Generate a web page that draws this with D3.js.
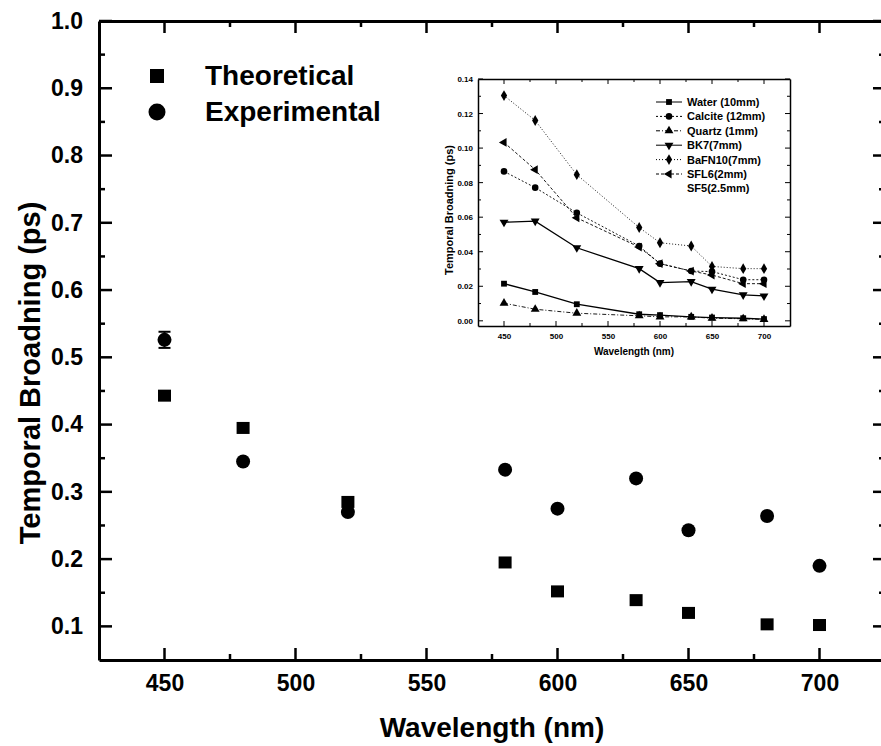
<!DOCTYPE html>
<html>
<head>
<meta charset="utf-8">
<script src="https://cdn.jsdelivr.net/npm/d3@7"></script>
<style>
body { margin: 0; background: #fff; }
svg { display: block; }
text { font-family: "Liberation Sans", Arial, sans-serif; font-weight: bold; fill: #000; }
</style>
</head>
<body>
<svg width="881" height="746"></svg>
<script>
// main chart data
const wavelengths = [450, 480, 520, 580, 600, 630, 650, 680, 700];
const theoretical = [0.443, 0.395, 0.285, 0.195, 0.152, 0.139, 0.120, 0.103, 0.102];
const experimental = [0.526, 0.345, 0.270, 0.333, 0.275, 0.320, 0.243, 0.264, 0.190];
const expError = [0.012, 0, 0, 0, 0, 0, 0, 0, 0];
const legendNames = ['Theoretical', 'Experimental'];

// inset data
const insetNames = ['Water (10mm)', 'Calcite (12mm)', 'Quartz (1mm)', 'BK7(7mm)', 'BaFN10(7mm)', 'SFL6(2mm)', 'SF5(2.5mm)'];
const water   = [0.0215, 0.0167, 0.0096, 0.0038, 0.0033, 0.0023, 0.0019, 0.0015, 0.0010];
const calcite = [0.0865, 0.0771, 0.0625, 0.0433, 0.0331, 0.0288, 0.0285, 0.0238, 0.0238];
const quartz  = [0.0102, 0.0067, 0.0044, 0.0029, 0.0023, 0.0023, 0.0015, 0.0012, 0.0008];
const bk7     = [0.0571, 0.0577, 0.0423, 0.0302, 0.0221, 0.0227, 0.0183, 0.0150, 0.0144];
const bafn10  = [0.1304, 0.1160, 0.0846, 0.0540, 0.0452, 0.0433, 0.0315, 0.0302, 0.0302];
const sfl6    = [0.1033, 0.0875, 0.0596, 0.0427, 0.0331, 0.0288, 0.0265, 0.0215, 0.0215];
const sf5     = [];
const insetSeries = [water, calcite, quartz, bk7, bafn10, sfl6, sf5];

const svg = d3.select('svg');

// ---------- main plot ----------
const x = d3.scaleLinear().domain([425, 725]).range([99, 885]);
const y = d3.scaleLinear().domain([0.05, 1.0]).range([660, 21]);

const xMajor = d3.range(450, 701, 50);
const xMinor = d3.range(475, 701, 50);
const yMajor = d3.range(1, 11).map(d => d / 10);
const yMinor = d3.range(1, 10).map(d => d / 10 + 0.05);

function styleAxis(g, w) {
  g.select('.domain').attr('stroke-width', w).attr('stroke', '#000');
}

// inward ticks drawn as plain lines on top of everything
function ticks(g, vals, scale, pos, orient, len, w) {
  g.append('g').selectAll('line').data(vals).enter().append('line')
    .attr('stroke', '#000').attr('stroke-width', w)
    .attr('x1', d => orient === 'h' ? scale(d) : pos)
    .attr('x2', d => orient === 'h' ? scale(d) : pos + len)
    .attr('y1', d => orient === 'h' ? pos : scale(d))
    .attr('y2', d => orient === 'h' ? pos + len : scale(d));
}

const axB = svg.append('g').attr('transform', 'translate(0,660)')
  .call(d3.axisBottom(x).tickValues(xMajor).tickSize(0).tickPadding(15).tickFormat(d3.format('d')));
axB.selectAll('text').style('font-size', '23px');
styleAxis(axB, 3);

styleAxis(svg.append('g').attr('transform', 'translate(0,21)')
  .call(d3.axisTop(x).tickValues([]).tickSize(0)), 3);

const axL = svg.append('g').attr('transform', 'translate(99,0)')
  .call(d3.axisLeft(y).tickValues(yMajor).tickSize(0).tickPadding(16).tickFormat(d3.format('.1f')));
axL.selectAll('text').style('font-size', '23px');
styleAxis(axL, 3);

styleAxis(svg.append('g').attr('transform', 'translate(885,0)')
  .call(d3.axisRight(y).tickValues([]).tickSize(0)), 3);

svg.append('text')
  .attr('transform', 'translate(40,373) rotate(-90)')
  .attr('text-anchor', 'middle')
  .style('font-size', '29px')
  .text('Temporal Broadning (ps)');

svg.append('text')
  .attr('x', 492).attr('y', 737)
  .attr('text-anchor', 'middle')
  .style('font-size', '28px')
  .text('Wavelength (nm)');

// error bars
const pts = wavelengths.map((w, i) => ({w, t: theoretical[i], e: experimental[i], err: expError[i]}));
const eb = svg.append('g').selectAll('g').data(pts.filter(d => d.err > 0)).enter().append('g')
  .attr('stroke', '#000').attr('stroke-width', 2);
eb.append('line').attr('x1', d => x(d.w)).attr('x2', d => x(d.w))
  .attr('y1', d => y(d.e - d.err)).attr('y2', d => y(d.e + d.err));
eb.append('line').attr('x1', d => x(d.w) - 6).attr('x2', d => x(d.w) + 6)
  .attr('y1', d => y(d.e - d.err)).attr('y2', d => y(d.e - d.err));
eb.append('line').attr('x1', d => x(d.w) - 6).attr('x2', d => x(d.w) + 6)
  .attr('y1', d => y(d.e + d.err)).attr('y2', d => y(d.e + d.err));

svg.append('g').selectAll('rect').data(pts).enter().append('rect')
  .attr('x', d => x(d.w) - 6.5).attr('y', d => y(d.t) - 6)
  .attr('width', 13).attr('height', 12).attr('fill', '#000');

svg.append('g').selectAll('circle').data(pts).enter().append('circle')
  .attr('cx', d => x(d.w)).attr('cy', d => y(d.e)).attr('r', 7).attr('fill', '#000');

// main legend
svg.append('rect').attr('x', 150).attr('y', 69).attr('width', 14).attr('height', 14).attr('fill', '#000');
svg.append('circle').attr('cx', 157).attr('cy', 112).attr('r', 8.5).attr('fill', '#000');
svg.append('g').selectAll('text').data(legendNames).enter().append('text')
  .attr('x', 205).attr('y', (d, i) => 85 + i * 36)
  .style('font-size', '28px')
  .text(d => d);

// ---------- inset ----------
const xi = d3.scaleLinear().domain([425, 725]).range([478, 790]);
const yi = d3.scaleLinear().domain([-0.003, 0.14]).range([326, 79]);

const ixMajor = d3.range(450, 701, 50);
const ixMinor = d3.range(475, 701, 50);
const iyMajor = d3.range(0, 8).map(d => d * 0.02);
const iyMinor = d3.range(0, 7).map(d => d * 0.02 + 0.01);

const ib = svg.append('g').attr('transform', 'translate(0,326)')
  .call(d3.axisBottom(xi).tickValues(ixMajor).tickSize(0).tickPadding(7).tickFormat(d3.format('d')));
ib.selectAll('text').style('font-size', '8px');
styleAxis(ib, 1.5);
styleAxis(svg.append('g').attr('transform', 'translate(0,79)')
  .call(d3.axisTop(xi).tickValues([]).tickSize(0)), 1.5);

const il = svg.append('g').attr('transform', 'translate(478,0)')
  .call(d3.axisLeft(yi).tickValues(iyMajor).tickSize(0).tickPadding(5).tickFormat(d3.format('.2f')));
il.selectAll('text').style('font-size', '8px');
styleAxis(il, 1.5);
styleAxis(svg.append('g').attr('transform', 'translate(790,0)')
  .call(d3.axisRight(yi).tickValues([]).tickSize(0)), 1.5);

svg.append('text')
  .attr('transform', 'translate(453,210) rotate(-90)')
  .attr('text-anchor', 'middle')
  .style('font-size', '11px')
  .text('Temporal Broadning (ps)');

svg.append('text')
  .attr('x', 634).attr('y', 355)
  .attr('text-anchor', 'middle')
  .style('font-size', '10px')
  .text('Wavelength (nm)');

const dashes = [null, '2,2', '4,2,1,2', null, '1,2', '3,2', null];
const symbols = [
  {type: d3.symbolSquare, rot: 0},
  {type: d3.symbolCircle, rot: 0},
  {type: d3.symbolTriangle, rot: 0},
  {type: d3.symbolTriangle, rot: 180},
  {type: d3.symbolDiamond, rot: 0},
  {type: d3.symbolTriangle, rot: -90},
  null
];

const line = d3.line().x(d => xi(d[0])).y(d => yi(d[1]));

insetSeries.forEach((vals, s) => {
  const data = vals.map((v, i) => [wavelengths[i], v]);
  if (!data.length) return;
  svg.append('path').datum(data)
    .attr('d', line).attr('fill', 'none').attr('stroke', '#000')
    .attr('stroke-width', s === 0 || s === 3 ? 1.3 : 0.9)
    .attr('stroke-dasharray', dashes[s]);
  const sym = d3.symbol().type(symbols[s].type).size(34);
  svg.append('g').selectAll('path').data(data).enter().append('path')
    .attr('d', sym)
    .attr('transform', d => `translate(${xi(d[0])},${yi(d[1])}) rotate(${symbols[s].rot})`)
    .attr('fill', '#000');
});

// inset legend
const leg = svg.append('g').selectAll('g').data(insetNames).enter().append('g')
  .attr('transform', (d, i) => `translate(0,${102 + i * 14.4})`);
leg.filter((d, i) => insetSeries[i].length > 0).append('line')
  .attr('x1', 656).attr('x2', 682).attr('y1', 0).attr('y2', 0)
  .attr('stroke', '#000').attr('stroke-width', 1)
  .attr('stroke-dasharray', d => dashes[insetNames.indexOf(d)]);
leg.filter((d, i) => symbols[i] !== null).append('path')
  .attr('d', d => d3.symbol().type(symbols[insetNames.indexOf(d)].type).size(34)())
  .attr('transform', d => `translate(669,0) rotate(${symbols[insetNames.indexOf(d)].rot})`)
  .attr('fill', '#000');
leg.append('text')
  .attr('x', 687).attr('y', 4)
  .style('font-size', '11px')
  .text(d => d);

// ---------- tick marks (inward) ----------
const tg = svg.append('g');
ticks(tg, xMajor, x, 660, 'h', -12, 2.5);
ticks(tg, xMinor, x, 660, 'h', -6, 2.5);
ticks(tg, xMajor, x, 21, 'h', 12, 2.5);
ticks(tg, xMinor, x, 21, 'h', 6, 2.5);
ticks(tg, yMajor, y, 99, 'v', 13, 2.5);
ticks(tg, yMinor, y, 99, 'v', 6, 2.5);
ticks(tg, yMajor, y, 885, 'v', -12, 2.5);
ticks(tg, yMinor, y, 885, 'v', -6, 2.5);

ticks(tg, ixMajor, xi, 326, 'h', -5, 1);
ticks(tg, ixMinor, xi, 326, 'h', -3, 1);
ticks(tg, ixMajor, xi, 79, 'h', 5, 1);
ticks(tg, ixMinor, xi, 79, 'h', 3, 1);
ticks(tg, iyMajor, yi, 478, 'v', 5, 1);
ticks(tg, iyMinor, yi, 478, 'v', 3, 1);
ticks(tg, iyMajor, yi, 790, 'v', -5, 1);
ticks(tg, iyMinor, yi, 790, 'v', -3, 1);
</script>
</body>
</html>
